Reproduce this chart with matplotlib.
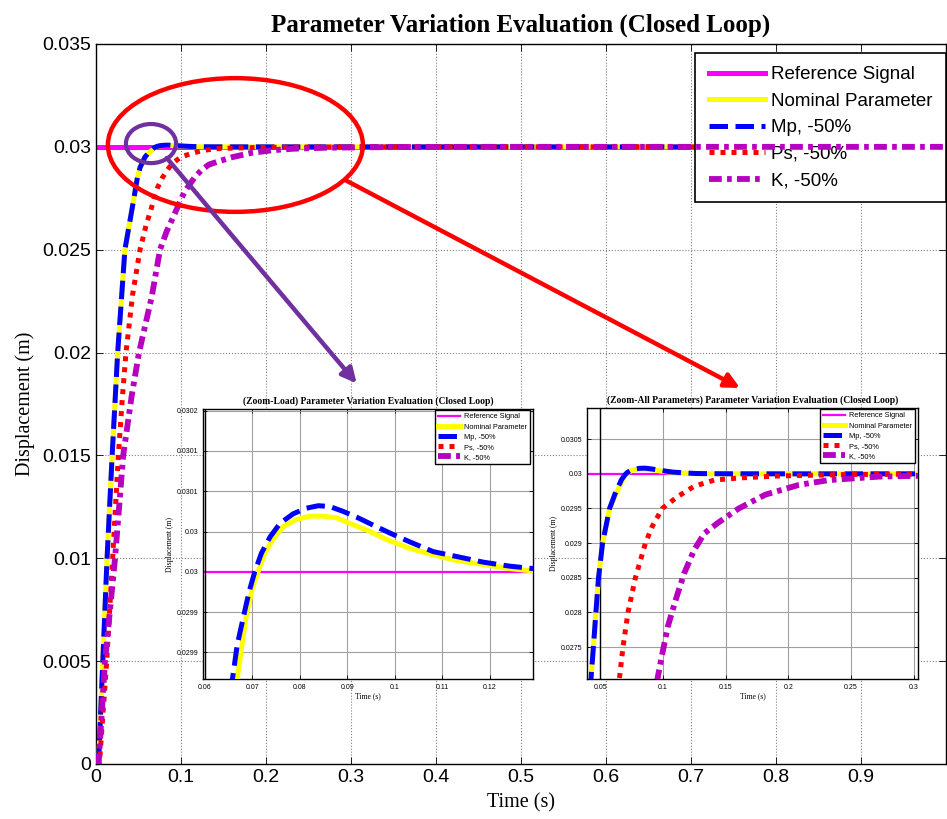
import matplotlib
matplotlib.use("Agg")
import matplotlib.pyplot as plt
from matplotlib.patches import Ellipse

# ---- datos ----
t_ref = [0.0, 1.0]
y_ref = [0.03, 0.03]

t_nom = [0.0, 0.003, 0.008, 0.013, 0.019, 0.0255, 0.034, 0.0446, 0.0466, 0.0487, 0.0519,
         0.0575, 0.0633, 0.0668, 0.0677, 0.0688, 0.0700, 0.0712, 0.0726, 0.0744, 0.0765,
         0.0793, 0.0821, 0.0849, 0.0877, 0.0905, 0.0940, 0.0983, 0.1032, 0.1081, 0.1130,
         0.1186, 0.1242, 0.1291, 0.15, 0.2, 1.0]
y_nom = [0.0, 0.0, 0.005, 0.010, 0.015, 0.020, 0.025, 0.0275, 0.0280, 0.0285, 0.0290,
         0.0295, 0.02974, 0.029867, 0.029905, 0.029949, 0.029979, 0.03, 0.030023, 0.030041, 0.030056,
         0.030065, 0.030069, 0.030069, 0.030067, 0.030060, 0.030052, 0.030040, 0.030029, 0.030021, 0.030014,
         0.030009, 0.030004, 0.030001, 0.03, 0.03, 0.03]

t_mp = [0.0, 0.003, 0.008, 0.013, 0.019, 0.0255, 0.034, 0.0446, 0.0466, 0.0487, 0.0519,
        0.0575, 0.0633, 0.0658, 0.0668, 0.0683, 0.0693, 0.0705, 0.0719, 0.0737, 0.0758,
        0.0786, 0.0814, 0.0839, 0.0863, 0.0891, 0.0919, 0.0954, 0.0990, 0.1032, 0.1081,
        0.1130, 0.1186, 0.1242, 0.1291, 0.15, 0.2, 1.0]
y_mp = [0.0, 0.0, 0.005, 0.010, 0.015, 0.020, 0.025, 0.0275, 0.0280, 0.0285, 0.0290,
        0.0295, 0.02978, 0.029867, 0.029909, 0.029949, 0.029975, 0.03, 0.030023, 0.030043, 0.030060,
        0.030072, 0.030079, 0.030082, 0.030081, 0.030075, 0.030068, 0.030058, 0.030048, 0.030037, 0.030025,
        0.030019, 0.030012, 0.030007, 0.030004, 0.030001, 0.03, 0.03]

t_ps = [0.0, 0.004, 0.0126, 0.0196, 0.0263, 0.031, 0.0353, 0.043, 0.0518, 0.059, 0.0655,
        0.0682, 0.0722, 0.0781, 0.0861, 0.0915, 0.0995, 0.1116, 0.1249, 0.141, 0.1605,
        0.1925, 0.2458, 0.30, 0.40, 1.0]
y_ps = [0.0, 0.0, 0.005, 0.010, 0.015, 0.0178, 0.020, 0.0228, 0.025, 0.0262, 0.02707,
        0.0275, 0.028, 0.0285, 0.029, 0.02924, 0.0295, 0.02967, 0.02982, 0.02991, 0.02994,
        0.02997, 0.02999, 0.029997, 0.03, 0.03]

t_k = [0.0, 0.003, 0.0106, 0.0224, 0.032, 0.042, 0.0506, 0.0655, 0.0753, 0.0832, 0.091,
       0.0995, 0.104, 0.1102, 0.1169, 0.1249, 0.133, 0.1437, 0.1605, 0.1818, 0.2084,
       0.2324, 0.2724, 0.2991, 0.35, 0.45, 1.0]
y_k = [0.0, 0.0, 0.005, 0.010, 0.015, 0.0179, 0.020, 0.0227, 0.025, 0.0259, 0.0266,
       0.0274, 0.0278, 0.02818, 0.02856, 0.0289, 0.02914, 0.02929, 0.0295, 0.0297, 0.02984,
       0.02991, 0.02996, 0.02997, 0.02999, 0.03, 0.03]

etiquetas = ["Reference Signal", "Nominal Parameter", "Mp, -50%", "Ps, -50%", "K, -50%"]

xticks_main = [0, 0.1, 0.2, 0.3, 0.4, 0.5, 0.6, 0.7, 0.8, 0.9]
yticks_main = [0, 0.005, 0.01, 0.015, 0.02, 0.025, 0.03, 0.035]
ylabels_main = ["0", "0.005", "0.01", "0.015", "0.02", "0.025", "0.03", "0.035"]

xticks_z1 = [0.06, 0.07, 0.08, 0.09, 0.10, 0.11, 0.12]
xlabels_z1 = ["0.06", "0.07", "0.08", "0.09", "0.1", "0.11", "0.12"]
yticks_z1 = [0.0299, 0.02995, 0.03, 0.03005, 0.0301, 0.03015, 0.0302]
ylabels_z1 = ["0.0299", "0.0299", "0.03", "0.03", "0.0301", "0.0301", "0.0302"]

xticks_z2 = [0.05, 0.1, 0.15, 0.2, 0.25, 0.3]
xlabels_z2 = ["0.05", "0.1", "0.15", "0.2", "0.25", "0.3"]
yticks_z2 = [0.0275, 0.028, 0.0285, 0.029, 0.0295, 0.03, 0.0305]
ylabels_z2 = ["0.0275", "0.028", "0.0285", "0.029", "0.0295", "0.03", "0.0305"]

C_REF = "#FF00FF"
C_NOM = "#FFFF00"
C_MP = "#0000FF"
C_PS = "#FF0000"
C_K = "#B800C0"
C_ANOT = "#7030A0"

SANS = "Liberation Sans"
SERIF = "Liberation Serif"


def dibujar_curvas(ax, ref_lw=3.6):
    ax.plot(t_ref, y_ref, color=C_REF, lw=ref_lw, label=etiquetas[0], zorder=2)
    ax.plot(t_nom, y_nom, color=C_NOM, lw=3.6, label=etiquetas[1], zorder=3)
    ax.plot(t_mp, y_mp, color=C_MP, lw=3.6, dashes=(3.7, 1.5), label=etiquetas[2], zorder=4)
    ax.plot(t_ps, y_ps, color=C_PS, lw=3.6, dashes=(1.0, 1.2), label=etiquetas[3], zorder=5)
    ax.plot(t_k, y_k, color=C_K, lw=4.2, dashes=(2.2, 0.9, 0.8, 0.9), label=etiquetas[4], zorder=6)


def estilo_ejes(ax, fs):
    ax.tick_params(direction="in", top=True, right=True, labelsize=fs, length=3, width=0.6)
    for s in ax.spines.values():
        s.set_linewidth(1.0)
    for lab in ax.get_xticklabels() + ax.get_yticklabels():
        lab.set_fontfamily(SANS)


def zoom_ejes(rect, xlim, ylim, xt, xl, yt, yl, titulo, linea_negra):
    z = fig.add_axes(rect)
    dibujar_curvas(z, 1.6)
    z.set_xlim(*xlim)
    z.set_ylim(*ylim)
    z.set_xticks(xt)
    z.set_xticklabels(xl)
    z.set_yticks(yt)
    z.set_yticklabels(yl)
    z.grid(True, color="#a0a0a0", linestyle="-", linewidth=0.8)
    z.axvline(linea_negra, color="black", lw=1.0)
    estilo_ejes(z, 5)
    z.set_title(titulo, fontfamily=SERIF, fontweight="bold", fontsize=6.9, pad=4)
    z.set_xlabel("Time (s)", fontfamily=SERIF, fontsize=5.5, labelpad=1)
    z.set_ylabel("Displacement (m)", fontfamily=SERIF, fontsize=5.5, labelpad=2)
    lz = z.legend(loc="upper right", bbox_to_anchor=(0.99, 0.995), borderaxespad=0,
                  prop={"family": SANS, "size": 5.3}, handlelength=3.0, handletextpad=0.5,
                  labelspacing=0.4, fancybox=False, edgecolor="black", framealpha=1)
    lz.get_frame().set_linewidth(1.0)
    return z


fig = plt.figure(figsize=(9.47, 8.19), dpi=100)

# ---- grafico principal ----
ax = fig.add_axes([96 / 947, 1 - 764 / 819, 850 / 947, 720 / 819])
dibujar_curvas(ax, 3.6)
ax.set_xlim(0, 1.0)
ax.set_ylim(0, 0.035)
ax.set_xticks(xticks_main)
ax.set_xticklabels([("%g" % v) for v in xticks_main])
ax.set_yticks(yticks_main)
ax.set_yticklabels(ylabels_main)
ax.grid(True, color="#808080", linestyle=":", linewidth=0.8)
estilo_ejes(ax, 14)
ax.tick_params(length=5)
ax.set_title("Parameter Variation Evaluation (Closed Loop)", fontfamily=SERIF,
             fontweight="bold", fontsize=18, pad=9)
ax.set_xlabel("Time (s)", fontfamily=SERIF, fontsize=14.5, labelpad=5)
ax.set_ylabel("Displacement (m)", fontfamily=SERIF, fontsize=14.5, labelpad=5)
leg = ax.legend(loc="upper right", bbox_to_anchor=(1.0, 0.9875), borderaxespad=0,
                prop={"family": SANS, "size": 13.5}, handlelength=3.0, handletextpad=0.35,
                labelspacing=0.5, borderpad=0.7, fancybox=False, edgecolor="black", framealpha=1)
leg.get_frame().set_linewidth(1.2)

# anotaciones (elipses y flechas)
ax.add_patch(Ellipse((0.164, 0.03009), 0.30, 0.0065, fill=False, edgecolor=C_PS, lw=3.2, zorder=8))
ax.add_patch(Ellipse((0.0647, 0.03016), 0.059, 0.0019, fill=False, edgecolor=C_ANOT, lw=3.0, zorder=9))
ax.annotate("", xy=(0.3067, 0.0185), xytext=(0.0832, 0.02946),
            arrowprops=dict(arrowstyle="-|>", color=C_ANOT, lw=3.2, mutation_scale=22,
                            shrinkA=0, shrinkB=0), zorder=9)
ax.annotate("", xy=(0.7576, 0.01828), xytext=(0.293, 0.02839),
            arrowprops=dict(arrowstyle="-|>", color=C_PS, lw=3.2, mutation_scale=22,
                            shrinkA=0, shrinkB=0), zorder=9)

# ---- zooms ----
zoom_ejes([203 / 947, 1 - 679 / 819, 330 / 947, 270 / 819], (0.0596, 0.1291), (0.029867, 0.030202),
          xticks_z1, xlabels_z1, yticks_z1, ylabels_z1,
          "(Zoom-Load) Parameter Variation Evaluation (Closed Loop)", 0.06)
zoom_ejes([587 / 947, 1 - 679 / 819, 331 / 947, 271 / 819], (0.0395, 0.3035), (0.02704, 0.03095),
          xticks_z2, xlabels_z2, yticks_z2, ylabels_z2,
          "(Zoom-All Parameters) Parameter Variation Evaluation (Closed Loop)", 0.05)

fig.savefig("out.png", dpi=100)
